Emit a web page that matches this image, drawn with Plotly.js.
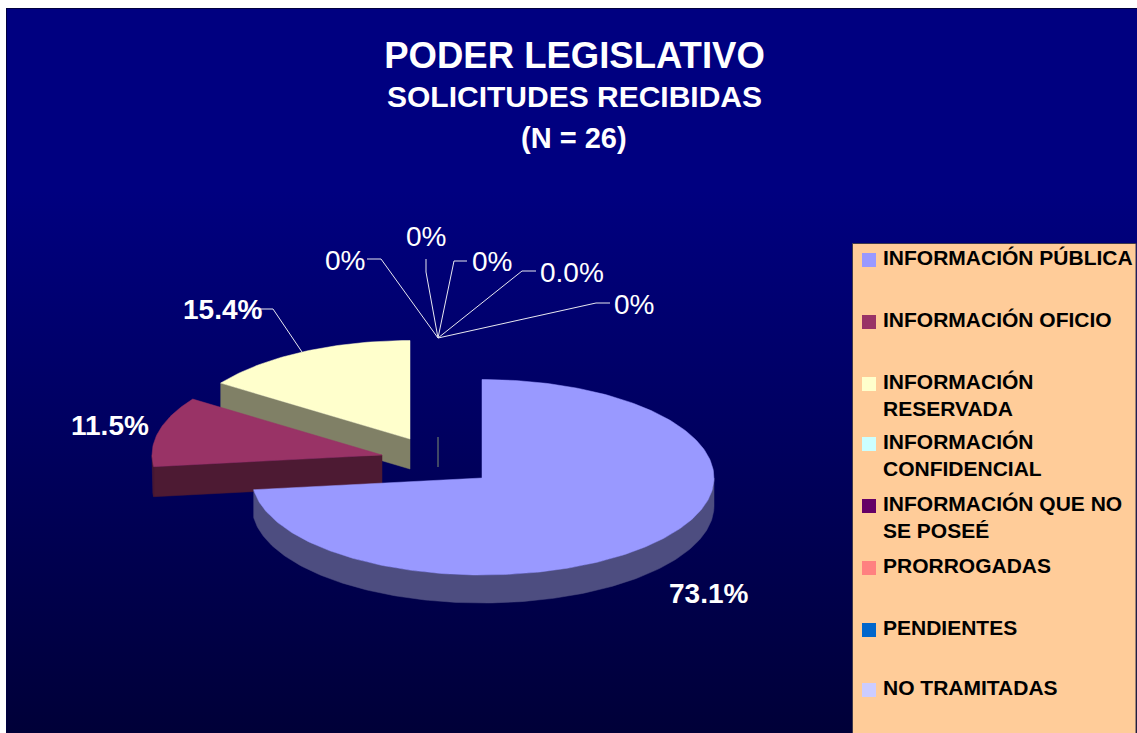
<!DOCTYPE html>
<html>
<head>
<meta charset="utf-8">
<script src="https://cdn.plot.ly/plotly-3.0.1.min.js"></script>
<style>
html,body{margin:0;padding:0;background:#fff;width:1137px;height:733px;overflow:hidden}
#bg{position:absolute;left:6px;top:8px;width:1131px;height:725px;box-sizing:border-box;border:1px solid #000040;border-right:none;border-bottom:none;
background:linear-gradient(to bottom,#000080 0%,#000080 25%,#000038 100%)}
#chart{position:absolute;left:0;top:0;width:1137px;height:733px}
</style>
</head>
<body>
<div id="bg"></div>
<div id="chart"></div>
<script>
// ---- data ----
var categories = ["INFORMACIÓN PÚBLICA","INFORMACIÓN OFICIO","INFORMACIÓN RESERVADA","INFORMACIÓN CONFIDENCIAL","INFORMACIÓN QUE NO SE POSEÉ","PRORROGADAS","PENDIENTES","NO TRAMITADAS"];
var legendLabels = ["INFORMACIÓN PÚBLICA","INFORMACIÓN OFICIO","INFORMACIÓN<br>RESERVADA","INFORMACIÓN<br>CONFIDENCIAL","INFORMACIÓN QUE NO<br>SE POSEÉ","PRORROGADAS","PENDIENTES","NO TRAMITADAS"];
var counts = [19,3,4,0,0,0,0,0];
var percentLabels = ["73.1%","11.5%","15.4%"];
var zeroLabels = ["0%","0%","0%","0.0%","0%"];
var titleText = "PODER LEGISLATIVO";
var subtitleLines = ["SOLICITUDES RECIBIDAS","(N = 26)"];
var topColors = ["#9999FF","#993366","#FFFFCC","#CCFFFF","#660066","#FF8080","#0066CC","#CCCCFF"];
var sideColors = ["#4D4D80","#4D1A33","#808066"];

// ---- pie geometry (pixel space of the hidden axes) ----
var RX_RIGHT = 232, RX_LEFT = 230, RY_UP = 98.5, RY_DOWN = 97;
var depths = [28,30,30];
var apexes = [[482,478],[382,455],[410,439]];
var zeroApex = [438,437];
var total = counts.reduce(function(a,b){return a+b;},0);
var starts = [], ends = [], acc = 0;
counts.forEach(function(c){ starts.push(acc/total*360); acc += c; ends.push(acc/total*360); });

function rim(apex, deg, dy){
  var r = deg*Math.PI/180, s = Math.sin(r), c = Math.cos(r);
  return [apex[0]+(s>0?RX_RIGHT:RX_LEFT)*s, apex[1]-(c>0?RY_UP:RY_DOWN)*c+(dy||0)];
}
function arc(apex, a, b, dy){
  var pts = [], n = Math.max(2, Math.ceil(Math.abs(b-a)));
  for (var i=0;i<=n;i++) pts.push(rim(apex, a+(b-a)*i/n, dy));
  return pts;
}
function poly(pts, color, name){
  return {type:"scatter", mode:"lines", x:pts.map(function(p){return p[0];}), y:pts.map(function(p){return p[1];}),
    fill:"toself", fillcolor:color, line:{color:color,width:0.5}, name:name, hoverinfo:"name", showlegend:false};
}
function topFace(i){ return poly([apexes[i]].concat(arc(apexes[i],starts[i],ends[i])).concat([apexes[i]]), topColors[i], categories[i]); }
function radialWall(i, deg){
  var p = rim(apexes[i],deg), a = apexes[i], d = depths[i];
  return poly([a,p,[p[0],p[1]+d],[a[0],a[1]+d],a], sideColors[i], categories[i]);
}
function rimWall(i, a, b){
  var up = arc(apexes[i],a,b), down = arc(apexes[i],b,a,depths[i]);
  return poly(up.concat(down).concat([up[0]]), sideColors[i], categories[i]);
}

var traces = [
  radialWall(2, ends[1]),
  topFace(2),
  {type:"scatter",mode:"lines",x:[zeroApex[0],zeroApex[0]],y:[zeroApex[1],zeroApex[1]+30],line:{color:"#7F8F6F",width:1},hoverinfo:"skip",showlegend:false},
  radialWall(1, starts[1]),
  rimWall(1, starts[1], 270),
  topFace(1),
  rimWall(0, 90, ends[0]),
  topFace(0)
];

// ---- legend ----
var legendRowY = [260,322,384,444,506,568,630,690];
traces.push({type:"scatter",mode:"markers",x:categories.map(function(){return 869;}),y:legendRowY,
  text:categories,hoverinfo:"text",showlegend:false,
  marker:{symbol:"square",size:14,color:topColors,line:{width:0}}});

var FONT = "Liberation Sans, Arial, sans-serif";
var annotations = [];
function label(t,x,y,size,bold,color,xa,ya){
  annotations.push({xref:"x",yref:"y",x:x,y:y,text:bold?"<b>"+t+"</b>":t,showarrow:false,xanchor:xa||"center",yanchor:ya||"middle",align:xa||"center",
    font:{family:FONT,size:size,color:color||"#fff"},borderpad:0,borderwidth:0});
}
label(subtitleLines[0],574.5,96,30,true);
label(subtitleLines[1],574,138,29,true);
label(percentLabels[0],708.5,593,28,true);
label(percentLabels[1],110,425,28,true);
label(percentLabels[2],222,309,28,true);
var zeroX=[344.5,426,492,572,634], zeroY=[260,236,261,272,304];
zeroLabels.forEach(function(t,i){ label(t,zeroX[i],zeroY[i],28,false); });
legendLabels.forEach(function(t,i){ label(t,882.5,legendRowY[i]-14,21,true,"#000","left","top"); });

// leader lines
var leaders = [
  [[367,259],[381,259],[438,338]],
  [[426,259],[426,272],[438,338]],
  [[467,261],[454,261],[438,338]],
  [[536,271],[522,271],[438,338]],
  [[610,303],[596,303],[438,338]],
  [[260,309],[273,309],[302,352]]
];
var shapes = [{type:"rect",xref:"x",yref:"y",x0:852.5,x1:1136,y0:243.5,y1:740,fillcolor:"#FFCC99",line:{color:"#403A4A",width:1},layer:"below"}];
leaders.forEach(function(l){
  shapes.push({type:"path",xref:"x",yref:"y",path:"M"+l[0].join(",")+"L"+l[1].join(",")+"L"+l[2].join(","),line:{color:"#E8E8F0",width:1},layer:"above"});
});

var layout = {
  width:1137,height:733,margin:{l:0,r:0,t:0,b:0},
  paper_bgcolor:"rgba(0,0,0,0)",plot_bgcolor:"rgba(0,0,0,0)",
  showlegend:false,
  xaxis:{range:[0,1137],visible:false,fixedrange:true},
  yaxis:{range:[733,0],visible:false,fixedrange:true},
  title:{text:"<b>"+titleText+"</b>",
    x:574.5/1137,xanchor:"center",xref:"paper",y:1-55/733,yanchor:"middle",yref:"paper",
    font:{family:FONT,size:36.5,color:"#fff"}},
  shapes:shapes,annotations:annotations
};
Plotly.newPlot("chart",traces,layout,{displayModeBar:false});
</script>
</body>
</html>
